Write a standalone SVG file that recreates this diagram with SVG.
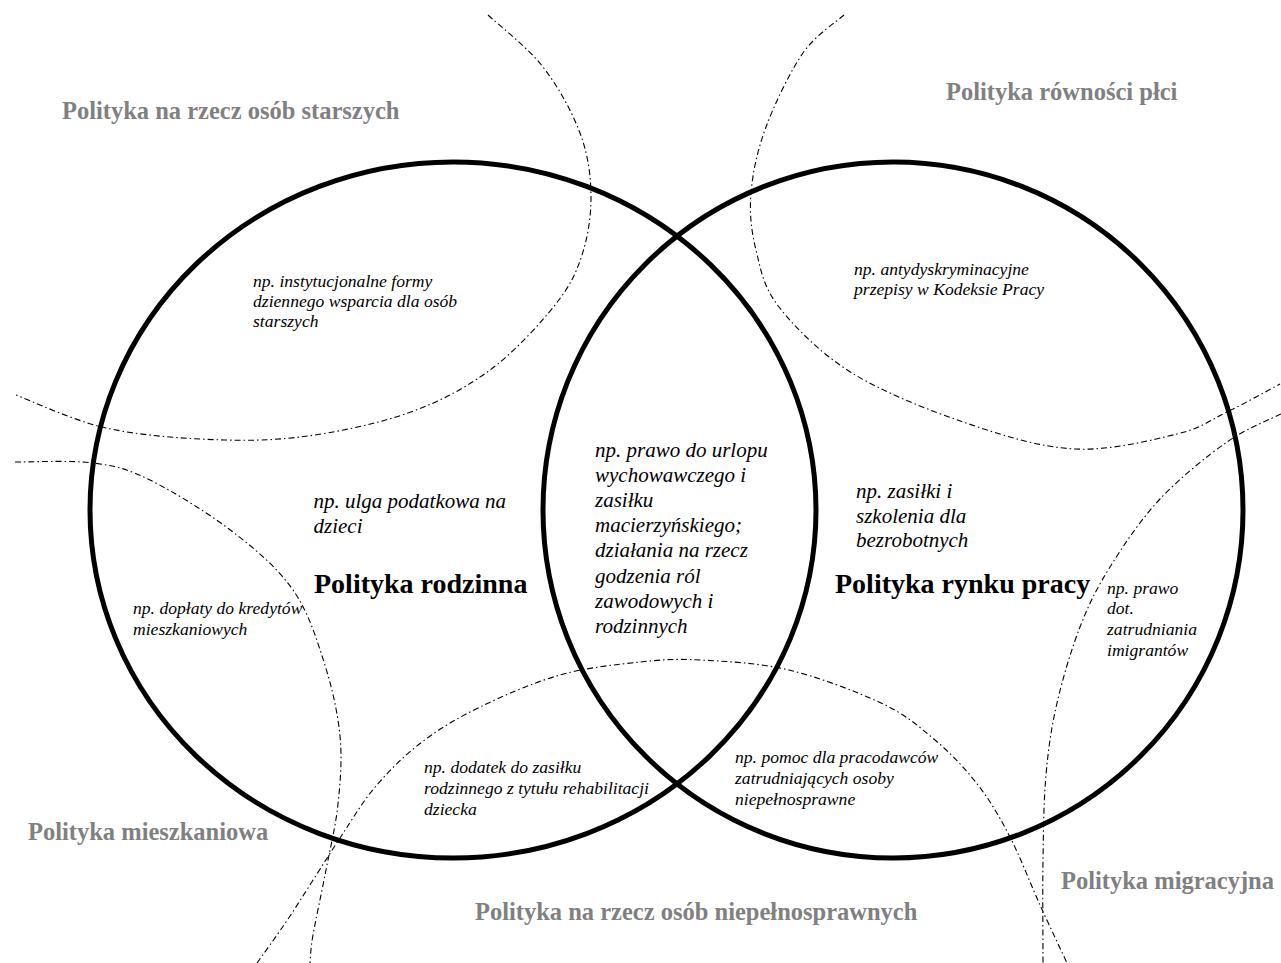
<svg xmlns="http://www.w3.org/2000/svg" width="1281" height="963" viewBox="0 0 1281 963">
<style>
.bg{fill:#ffffff}
.main{fill:none;stroke:#000;stroke-width:5}
.dash{fill:none;stroke:#000;stroke-width:1.1;stroke-dasharray:6 3 1.5 3}
.gray{font-family:"Liberation Serif","Times New Roman",serif;font-weight:bold;font-size:24.5px;fill:#808080}
.big{font-family:"Liberation Serif","Times New Roman",serif;font-weight:bold;font-size:28px;fill:#000}
.it{font-family:"Liberation Serif","Times New Roman",serif;font-style:italic;font-size:17.6px;fill:#000}
.itl{font-family:"Liberation Serif","Times New Roman",serif;font-style:italic;font-size:21px;fill:#000}
</style>
<rect class="bg" x="0" y="0" width="1281" height="963"/>

<g id="connectors">
  <path id="arc-starsi" class="dash" d="M488 15 C497.2 23.7 527.7 47.3 543 67 C558.3 86.7 572 111.7 580 133 C588 154.3 590.7 174.7 591 195 C591.3 215.3 588 236.7 582 255 C576 273.3 570.3 285.8 555 305 C539.7 324.2 514.5 352 490 370 C465.5 388 439.7 401.8 408 413 C376.3 424.2 334.7 432.7 300 437 C265.3 441.3 233 440.7 200 439 C167 437.3 132.7 434.3 102 427 C71.3 419.7 30.3 400.3 16 395"/>
  <path id="arc-rownosc" class="dash" d="M844 15 C837.2 21.3 816 34.3 803 53 C790 71.7 774.7 103.7 766 127 C757.3 150.3 752.7 172.5 751 193 C749.3 213.5 751.3 231 756 250 C760.7 269 763 286.5 779 307 C795 327.5 820.8 353.7 852 373 C883.2 392.3 928.8 410.3 966 423 C1003.2 435.7 1039.8 447.2 1075 449 C1110.2 450.8 1151.7 440.2 1177 434 C1202.3 427.8 1209.8 420.3 1227 412 C1244.2 403.7 1271.2 388.7 1280 384"/>
  <path id="arc-mieszkaniowa" class="dash" d="M15 462 C28 462.2 70.5 460 93 463 C115.5 466 126.7 468.5 150 480 C173.3 491.5 209.2 513.7 233 532 C256.8 550.3 277.8 568.3 293 590 C308.2 611.7 316.2 637.7 324 662 C331.8 686.3 337.7 712.3 340 736 C342.3 759.7 340.3 781.7 338 804 C335.7 826.3 330.2 848.2 326 870 C321.8 891.8 315.7 919.5 313 935 C310.3 950.5 310.5 958.3 310 963"/>
  <path id="arc-niepelnosprawni" class="dash" d="M257 963 C262.5 955.2 276.2 936.8 290 916 C303.8 895.2 325.7 859.7 340 838 C354.3 816.3 362.3 802 376 786 C389.7 770 404.7 755.2 422 742 C439.3 728.8 457 718.2 480 707 C503 695.8 533.3 682.5 560 675 C586.7 667.5 616.7 664.5 640 662 C663.3 659.5 675.2 658.7 700 660 C724.8 661.3 758.8 662.8 789 670 C819.2 677.2 856.7 691.7 881 703 C905.3 714.3 918.8 726.3 935 740 C951.2 753.7 965.5 768.8 978 785 C990.5 801.2 999.7 817 1010 837 C1020.3 857 1030.5 884 1040 905 C1049.5 926 1062.5 953.3 1067 963"/>
  <path id="arc-migracyjna" class="dash" d="M1281 414 C1272 418.7 1247.2 427.8 1227 442 C1206.8 456.2 1179.5 478.2 1160 499 C1140.5 519.8 1123.3 545.7 1110 567 C1096.7 588.3 1088.8 604.3 1080 627 C1071.2 649.7 1062.7 678.3 1057 703 C1051.3 727.7 1048.3 748.8 1046 775 C1043.7 801.2 1043.5 828.7 1043 860 C1042.5 891.3 1043 945.8 1043 963"/>
</g>

<g id="node-rodzinna">
  <ellipse class="main" cx="453" cy="510" rx="363" ry="348"/>
  <text class="big" x="314" y="593">Polityka rodzinna</text>
  <text class="itl" x="313.5" y="508">np. ulga podatkowa na</text>
  <text class="itl" x="313.5" y="533">dzieci</text>
</g>

<g id="node-rynek-pracy">
  <ellipse class="main" cx="893" cy="510" rx="350" ry="348"/>
  <text class="big" x="835" y="593">Polityka rynku pracy</text>
  <text class="itl" x="856" y="498">np. zasiłki i</text>
  <text class="itl" x="856" y="522.5">szkolenia dla</text>
  <text class="itl" x="856" y="547">bezrobotnych</text>
</g>

<g id="node-wspolne">
  <text class="itl" x="595" y="456.5">np. prawo do urlopu</text>
  <text class="itl" x="595" y="481.7">wychowawczego i</text>
  <text class="itl" x="595" y="506.9">zasiłku</text>
  <text class="itl" x="595" y="532.1">macierzyńskiego;</text>
  <text class="itl" x="595" y="557.3">działania na rzecz</text>
  <text class="itl" x="595" y="582.5">godzenia ról</text>
  <text class="itl" x="595" y="607.7">zawodowych i</text>
  <text class="itl" x="595" y="632.9">rodzinnych</text>
</g>

<g id="node-starsi">
  <text class="gray" x="62" y="119">Polityka na rzecz osób starszych</text>
  <text class="it" x="253" y="287">np. instytucjonalne formy</text>
  <text class="it" x="253" y="307">dziennego wsparcia dla osób</text>
  <text class="it" x="253" y="327">starszych</text>
</g>

<g id="node-rownosc">
  <text class="gray" x="946" y="100">Polityka równości płci</text>
  <text class="it" x="854" y="275">np. antydyskryminacyjne</text>
  <text class="it" x="854" y="295">przepisy w Kodeksie Pracy</text>
</g>

<g id="node-mieszkaniowa">
  <text class="gray" x="28" y="840">Polityka mieszkaniowa</text>
  <text class="it" x="133" y="614">np. dopłaty do kredytów</text>
  <text class="it" x="133" y="635">mieszkaniowych</text>
</g>

<g id="node-niepelnosprawni">
  <text class="gray" x="475" y="920">Polityka na rzecz osób niepełnosprawnych</text>
  <text class="it" x="424" y="773">np. dodatek do zasiłku</text>
  <text class="it" x="424" y="794">rodzinnego z tytułu rehabilitacji</text>
  <text class="it" x="424" y="815">dziecka</text>
  <text class="it" x="735" y="763">np. pomoc dla pracodawców</text>
  <text class="it" x="735" y="784">zatrudniających osoby</text>
  <text class="it" x="735" y="805">niepełnosprawne</text>
</g>

<g id="node-migracyjna">
  <text class="gray" x="1061" y="889">Polityka migracyjna</text>
  <text class="it" x="1107" y="594">np. prawo</text>
  <text class="it" x="1107" y="614">dot.</text>
  <text class="it" x="1107" y="635">zatrudniania</text>
  <text class="it" x="1107" y="656">imigrantów</text>
</g>
</svg>
